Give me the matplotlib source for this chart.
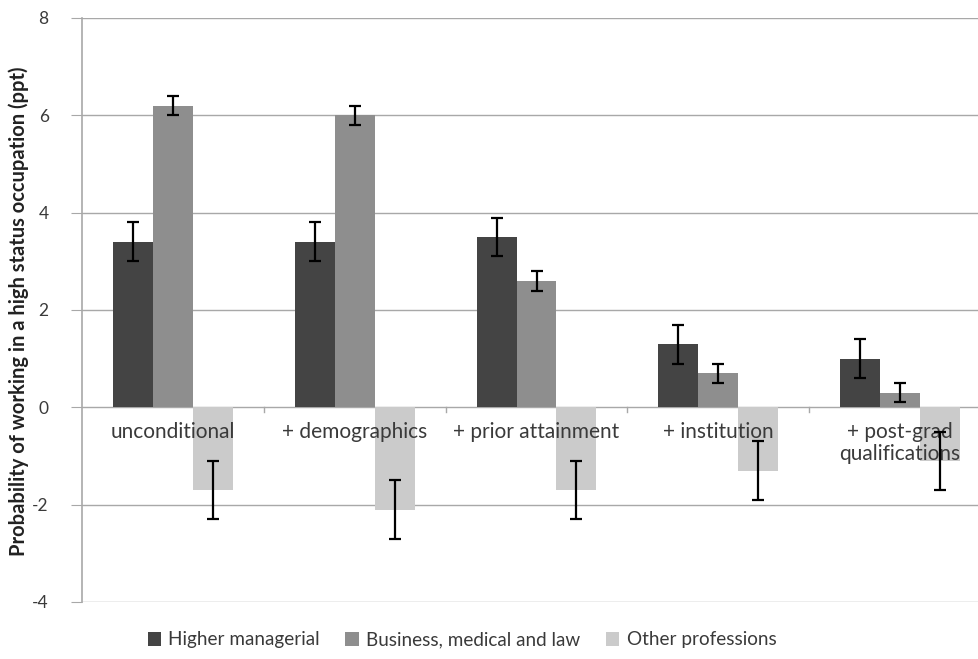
import matplotlib
matplotlib.use("Agg")
import matplotlib.pyplot as plt
import numpy as np

plt.rcParams['font.family'] = ['Lato', 'DejaVu Sans']

categories = ["unconditional", "+ demographics", "+ prior attainment",
              "+ institution", "+ post-grad\nqualifications"]
series_names = ["Higher managerial", "Business, medical and law", "Other professions"]
higher_managerial = [3.4, 3.4, 3.5, 1.3, 1.0]
business_med_law = [6.2, 6.0, 2.6, 0.7, 0.3]
other_professions = [-1.7, -2.1, -1.7, -1.3, -1.1]
err_higher = [0.4, 0.4, 0.4, 0.4, 0.4]
err_business = [0.2, 0.2, 0.2, 0.2, 0.2]
err_other = [0.6, 0.6, 0.6, 0.6, 0.6]
y_ticks = [-4, -2, 0, 2, 4, 6, 8]

colors = ["#444444", "#8e8e8e", "#cbcbcb"]
text_col = "#3a3a3a"

fig = plt.figure(figsize=(9.79, 6.59), dpi=100)
ax = fig.add_axes([82 / 979, 57 / 659, 909 / 979, 584 / 659])

x = np.arange(len(categories))
w = 0.22
values = [higher_managerial, business_med_law, other_professions]
errors = [err_higher, err_business, err_other]

handles = []
for i, (vals, errs) in enumerate(zip(values, errors)):
    pos = x + (i - 1) * w
    b = ax.bar(pos, vals, width=w, color=colors[i], zorder=2, label=series_names[i])
    handles.append(b)
    ax.errorbar(pos, vals, yerr=errs, fmt='none', ecolor='black', elinewidth=1.6,
                capsize=4, capthick=1.6, zorder=5)

ax.set_xlim(-0.5, len(categories) - 0.5)
ax.set_ylim(-4, 8)
ax.set_yticks(y_ticks)
ax.set_yticklabels([str(t) for t in y_ticks], fontsize=12.5, color=text_col)
ax.yaxis.grid(True, color="#a8a8a8", linewidth=1.0, zorder=0)
ax.set_axisbelow(True)
ax.tick_params(axis='y', length=8, color="#a8a8a8", pad=16)
ax.tick_params(axis='x', length=0)
ax.set_xticks([])

for s in ['top', 'right', 'bottom']:
    ax.spines[s].set_visible(False)
ax.spines['left'].set_color("#a8a8a8")
ax.spines['left'].set_linewidth(1.2)

# category separator ticks on the zero line
for b in np.arange(0.5, len(categories) - 0.5, 1.0):
    ax.plot([b, b], [0, -0.1], color="#a8a8a8", linewidth=1.0, zorder=1)

for xi, lab in zip(x, categories):
    ax.text(xi, -0.30, lab, ha='center', va='top', fontsize=15,
            color=text_col, linespacing=1.1, zorder=3)

fig.text(19 / 979, 1 - 311 / 659,
         "Probability of working in a high status occupation (ppt)",
         rotation=90, ha='center', va='center', fontsize=14.5,
         fontweight='bold', color="#222222")

fig.legend(handles=handles, labels=series_names, loc='center',
           bbox_to_anchor=(462 / 979, 1 - 640 / 659), ncol=3, frameon=False,
           fontsize=13.6, handlelength=0.7, handleheight=0.7, handletextpad=0.4,
           columnspacing=1.35, labelcolor=text_col)

fig.savefig("out.png", dpi=100)
